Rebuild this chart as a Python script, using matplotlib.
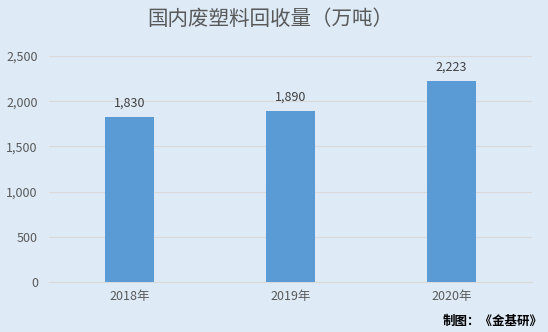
import matplotlib
matplotlib.use("Agg")
import matplotlib.pyplot as plt
from matplotlib.ticker import FuncFormatter

plt.rcParams['font.family'] = ['Noto Sans CJK SC', 'DejaVu Sans']

categories = ["2018年", "2019年", "2020年"]
values = [1830, 1890, 2223]
title = "国内废塑料回收量（万吨）"
footer = "制图：《金基研》"

bg = "#DEEBF7"
fig = plt.figure(figsize=(5.48, 3.32), dpi=100, facecolor=bg)
ax = fig.add_axes([49/548, 1-282/332, 483/548, 226/332], facecolor=bg)

x = range(len(categories))
ax.bar(x, values, width=0.31, color="#5B9BD5", zorder=3)
for xi, v in zip(x, values):
    ax.text(xi, v + 80, f"{v:,}", ha="center", va="bottom", fontsize=9, color="#404040")

ax.set_xlim(-0.5, 2.5)
ax.set_ylim(0, 2500)
ax.set_yticks(range(0, 2501, 500))
ax.yaxis.set_major_formatter(FuncFormatter(lambda v, p: f"{int(v):,}"))
ax.set_xticks(list(x))
ax.set_xticklabels(categories)
ax.tick_params(axis='both', length=0, labelsize=9, colors="#595959")
ax.tick_params(axis='y', pad=8)
ax.tick_params(axis='x', pad=6)
ax.grid(axis='y', color="#D9D9D9", linewidth=0.8, zorder=0)
for s in ["top", "right", "left"]:
    ax.spines[s].set_visible(False)
ax.spines["bottom"].set_color("#D9D9D9")

fig.text(270/548, 1-19/332, title, ha="center", va="center", fontsize=14.8, color="#595959")
fig.text(543/548, 1-321/332, footer, ha="right", va="center", fontsize=9, fontweight="bold", color="#000000")

fig.savefig("out.png", dpi=100, facecolor=bg)
